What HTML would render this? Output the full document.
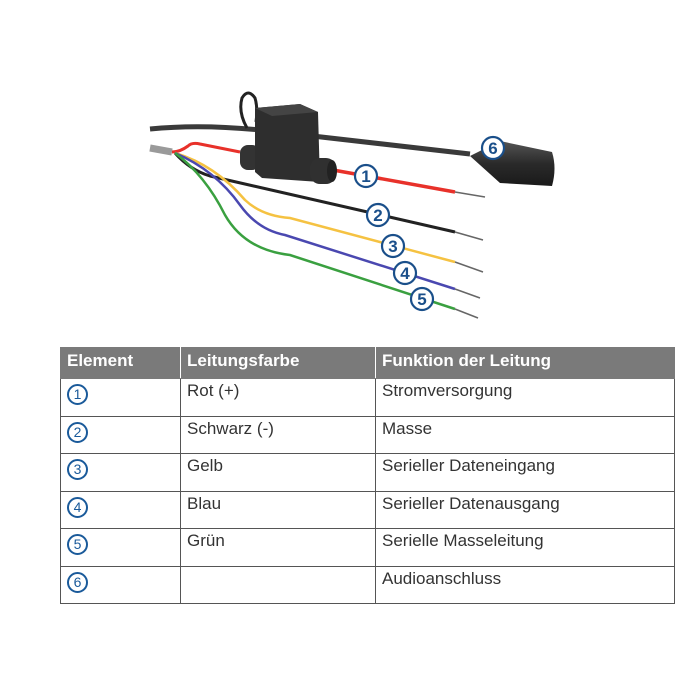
<!DOCTYPE html>
<html><head><meta charset="utf-8"><style>
body{margin:0;width:700px;height:700px;background:#fff;position:relative;font-family:"Liberation Sans",Arial,sans-serif;}
svg.d{position:absolute;left:0;top:0}
table{position:absolute;left:60px;top:347px;border-collapse:collapse;width:615px;}
td,th{border:1px solid #555;text-align:left;vertical-align:top;padding:2px 6px 0 6px;font-size:17px;color:#333;height:34px;box-sizing:border-box}
th{background:#7a7a7a;color:#fff;font-weight:bold;height:31px;padding-top:3px;border-color:#7a7a7a #fff #7a7a7a #fff}
th:first-child{border-left-color:#7a7a7a} th:last-child{border-right-color:#7a7a7a}
tr.r td{height:37.5px}
.c{display:inline-block;width:17px;height:17px;border:2px solid #1a5a9a;border-radius:50%;color:#1a5a9a;font-size:14px;text-align:center;line-height:17px;margin-top:3px}
</style></head><body>
<svg class="d" width="700" height="340" viewBox="0 0 700 340">
<defs><linearGradient id="cg" x1="0" y1="0" x2="0" y2="1"><stop offset="0" stop-color="#555"/><stop offset="0.5" stop-color="#2a2a2a"/><stop offset="1" stop-color="#1a1a1a"/></linearGradient></defs>
<path d="M150 129 Q200 124 260 130 L470 154" stroke="#3a3a3a" stroke-width="5" fill="none"/>
<path d="M470 156 L500 141 L552 152 Q557 168 552 186 L500 183 Z" fill="url(#cg)"/>
<path d="M150 148 L172 152" stroke="#9a9a9a" stroke-width="7" fill="none"/>
<path d="M172 152 Q180 152 188 146 Q192 142 200 144 L240 152" stroke="#e8312a" stroke-width="3" fill="none"/>
<path d="M333 170 L455 192" stroke="#e8312a" stroke-width="3.5" fill="none"/>
<path d="M455 192 L485 197" stroke="#666" stroke-width="1.5" fill="none"/>
<path d="M175 153 Q190 170 210 176 L455 232" stroke="#222" stroke-width="3" fill="none"/>
<path d="M455 232 L483 240" stroke="#666" stroke-width="1.5" fill="none"/>
<path d="M175 153 Q215 165 245 200 Q262 216 290 218 L455 262" stroke="#f5c242" stroke-width="2.5" fill="none"/>
<path d="M455 262 L483 272" stroke="#666" stroke-width="1.5" fill="none"/>
<path d="M175 153 Q215 170 240 205 Q258 230 285 235 L455 289" stroke="#4a48b0" stroke-width="2.5" fill="none"/>
<path d="M455 289 L480 298" stroke="#666" stroke-width="1.5" fill="none"/>
<path d="M175 153 Q205 175 225 215 Q245 250 290 255 L455 309" stroke="#3aa040" stroke-width="2.5" fill="none"/>
<path d="M455 309 L478 318" stroke="#666" stroke-width="1.5" fill="none"/>
<path d="M247 128 Q238 112 242 98 Q248 88 255 98 Q258 108 256 122" stroke="#222" stroke-width="3" fill="none"/>
<rect x="240" y="145" width="20" height="25" rx="8" fill="#333"/>
<path d="M255 108 L300 104 L318 112 L320 182 L262 178 L255 172Z" fill="#2e2e2e"/>
<path d="M255 108 L300 104 L318 112 L272 116Z" fill="#444"/>
<rect x="310" y="158" width="26" height="26" rx="10" fill="#303030"/>
<ellipse cx="332" cy="171" rx="5" ry="11" fill="#222"/>
<g font-family="Liberation Sans,Arial,sans-serif" font-weight="bold" font-size="17" fill="#1a4f8a" text-anchor="middle">
<g stroke="#1a4f8a" stroke-width="2.2" fill="#fff">
<circle cx="366" cy="176" r="11"/><circle cx="378" cy="215" r="11"/><circle cx="393" cy="246" r="11"/><circle cx="405" cy="273" r="11"/><circle cx="422" cy="299" r="11"/><circle cx="493" cy="148" r="11"/></g>
<text x="366" y="182">1</text><text x="378" y="221">2</text><text x="393" y="252">3</text><text x="405" y="279">4</text><text x="422" y="305">5</text><text x="493" y="154">6</text>
</g>
</svg>
<table>
<tr><th style="width:120px">Element</th><th style="width:195px">Leitungsfarbe</th><th>Funktion der Leitung</th></tr>
<tr class="r"><td><span class="c">1</span></td><td>Rot (+)</td><td>Stromversorgung</td></tr>
<tr class="r"><td><span class="c">2</span></td><td>Schwarz (-)</td><td>Masse</td></tr>
<tr class="r"><td><span class="c">3</span></td><td>Gelb</td><td>Serieller Dateneingang</td></tr>
<tr class="r"><td><span class="c">4</span></td><td>Blau</td><td>Serieller Datenausgang</td></tr>
<tr class="r"><td><span class="c">5</span></td><td>Grün</td><td>Serielle Masseleitung</td></tr>
<tr class="r"><td><span class="c">6</span></td><td></td><td>Audioanschluss</td></tr>
</table>
</body></html>
